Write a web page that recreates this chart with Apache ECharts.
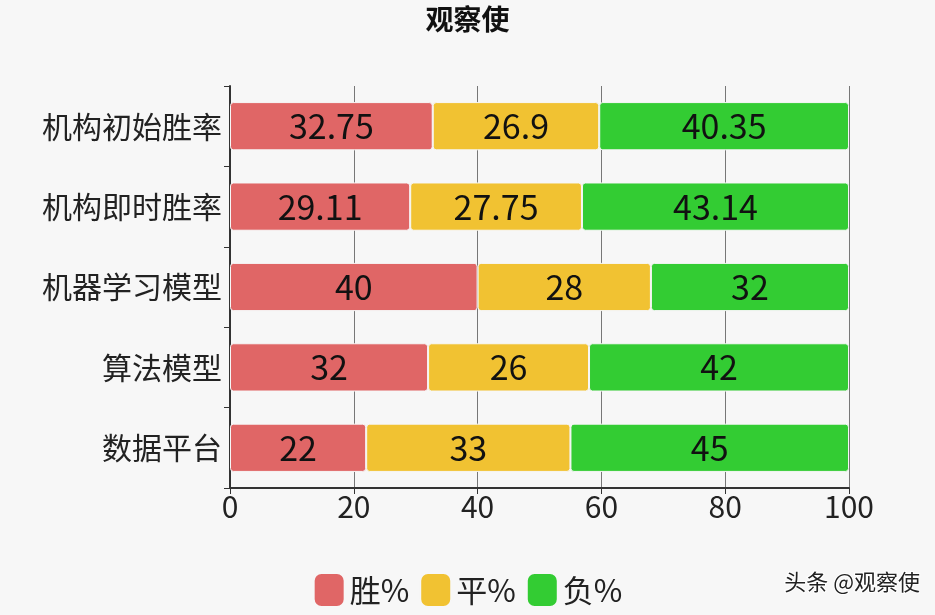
<!DOCTYPE html>
<html lang="zh">
<head>
    <meta charset="UTF-8">
    <title>观察使</title>
    <script src="https://cdn.jsdelivr.net/npm/echarts@6/dist/echarts.min.js"></script>
    <style>
        html, body {
            margin: 0;
            padding: 0;
            width: 935px;
            height: 615px;
            background: #f7f7f7;
        }
        #chart {
            width: 935px;
            height: 615px;
        }
    </style>
</head>
<body>
<div id="chart"></div>
<script>
    var categories = ['机构初始胜率', '机构即时胜率', '机器学习模型', '算法模型', '数据平台'];
    var winData = [32.75, 29.11, 40, 32, 22];
    var drawData = [26.9, 27.75, 28, 26, 33];
    var loseData = [40.35, 43.14, 32, 42, 45];
    var xTicks = [0, 20, 40, 60, 80, 100];

    var font = '"Noto Sans CJK SC", "Noto Sans", sans-serif';

    function makeSeries(name, data, color) {
        return {
            name: name,
            type: 'bar',
            stack: 'total',
            barWidth: '60%',
            data: data,
            itemStyle: {
                color: color,
                borderRadius: 3,
                borderColor: '#f7f7f7',
                borderWidth: 1
            },
            label: {
                show: true,
                position: 'inside',
                color: '#111',
                fontSize: 34,
                fontFamily: font
            }
        }
    }

    var myChart = echarts.init(document.getElementById('chart'));
    myChart.setOption({
        backgroundColor: '#f7f7f7',
        animation: false,
        title: {
            text: '观察使',
            left: 'center',
            top: 0,
            textStyle: {fontSize: 28, fontWeight: 'bold', color: '#111', fontFamily: font}
        },
        legend: {
            bottom: 2,
            left: 'center',
            itemWidth: 31,
            itemHeight: 34,
            itemGap: 10,
            icon: 'roundRect',
            textStyle: {fontSize: 31, color: '#222', fontFamily: font},
            data: ['胜%', '平%', '负%']
        },
        grid: {left: 230, right: 86, top: 86, bottom: 127},
        xAxis: {
            type: 'value',
            min: xTicks[0],
            max: xTicks[xTicks.length - 1],
            interval: 20,
            axisLine: {show: true, lineStyle: {color: '#333', width: 2}},
            axisTick: {show: true, length: 6, lineStyle: {color: '#333'}},
            axisLabel: {fontSize: 30, color: '#222', fontFamily: font, margin: 4},
            splitLine: {show: true, lineStyle: {color: '#777', width: 1}}
        },
        yAxis: {
            type: 'category',
            inverse: true,
            data: categories,
            axisLine: {show: true, lineStyle: {color: '#333', width: 2}},
            axisTick: {show: true, length: 6, lineStyle: {color: '#333'}},
            axisLabel: {fontSize: 30, color: '#222', fontFamily: font, margin: 8}
        },
        series: [
            makeSeries('胜%', winData, '#e06666'),
            makeSeries('平%', drawData, '#f1c232'),
            makeSeries('负%', loseData, '#33cc33')
        ],
        graphic: [{
            type: 'text',
            right: 14,
            top: 570,
            style: {
                text: '头条 @观察使',
                fontSize: 22,
                fontFamily: font,
                fill: '#222',
                stroke: '#fff',
                lineWidth: 2
            }
        }]
    });
</script>
</body>
</html>
